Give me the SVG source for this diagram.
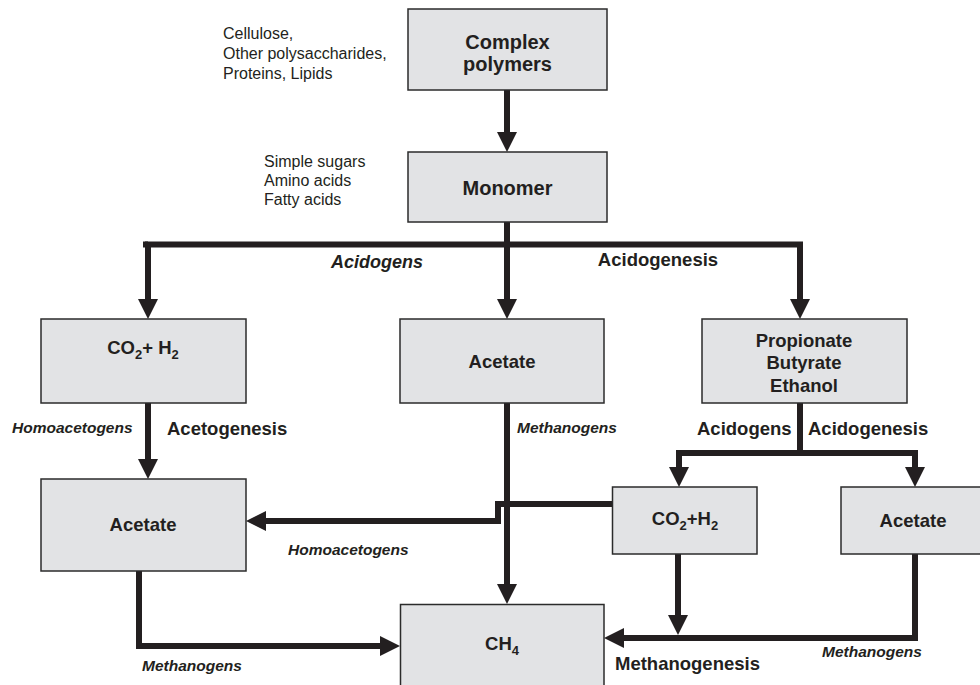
<svg xmlns="http://www.w3.org/2000/svg" width="980" height="685" viewBox="0 0 980 685">
<defs>
<style>
.box{fill:#e2e3e5;stroke:#2b2b2b;stroke-width:1.5}
.t{font-family:"Liberation Sans",Arial,sans-serif;fill:#231f20}
.lbl{font-size:18.5px;font-weight:bold;text-anchor:middle}
.note{font-size:16px}
.bi{font-size:15.5px;font-weight:bold;font-style:italic}
.b{font-size:18.5px;font-weight:bold}
.c{fill:none;stroke:#231f20;stroke-width:6;stroke-linejoin:miter;stroke-linecap:butt;marker-end:url(#ah)}
.p{fill:none;stroke:#231f20;stroke-width:6;stroke-linejoin:miter}
</style>
<marker id="ah" markerUnits="userSpaceOnUse" viewBox="0 0 20 20" refX="0" refY="10" markerWidth="20" markerHeight="20" orient="auto">
<path d="M0,0 L20,10 L0,20 z" fill="#231f20"/>
</marker>
</defs>
<rect width="980" height="685" fill="#ffffff"/>

<g id="connectors">
<path class="c" d="M507,90 V132"/>
<path class="c" d="M507,222 V299"/>
<path class="c" d="M507,244.5 H148 V299"/>
<path class="c" d="M507,244.5 H800 V299"/>
<path class="p" d="M143,244.5 H148"/>
<path class="c" d="M148,403 V459"/>
<path class="c" d="M507,403 V584"/>
<path class="p" d="M800,403 V453"/>
<path class="c" d="M800,453 H679 V467"/>
<path class="c" d="M800,453 H915 V467"/>
<path class="c" d="M612,504 H498 V521 H266"/>
<path class="c" d="M139,571 V646 H380"/>
<path class="c" d="M678,554 V615"/>
<path class="c" d="M915,554 V638 H624"/>
</g>

<g id="complex-polymers">
<rect class="box" x="408" y="9" width="199" height="81"/>
<text class="t" x="507.5" y="49" font-size="20" font-weight="bold" text-anchor="middle">Complex</text>
<text class="t" x="507.5" y="71" font-size="20" font-weight="bold" text-anchor="middle">polymers</text>
</g>
<g id="polymer-note">
<text class="t note" x="223" y="39">Cellulose,</text>
<text class="t note" x="223" y="59">Other polysaccharides,</text>
<text class="t note" x="223" y="79">Proteins, Lipids</text>
</g>

<g id="monomer">
<rect class="box" x="408" y="152" width="199" height="70"/>
<text class="t" x="507.5" y="195" font-size="20" font-weight="bold" text-anchor="middle">Monomer</text>
</g>
<g id="monomer-note">
<text class="t note" x="264" y="167">Simple sugars</text>
<text class="t note" x="264" y="186">Amino acids</text>
<text class="t note" x="264" y="205">Fatty acids</text>
</g>

<g id="co2-h2-left">
<rect class="box" x="41" y="319" width="205" height="84"/>
<text class="t lbl" x="143" y="354">CO<tspan font-size="13" dy="5">2</tspan><tspan dy="-5">+ H</tspan><tspan font-size="13" dy="5">2</tspan></text>
</g>

<g id="acetate-mid">
<rect class="box" x="400" y="319" width="204" height="84"/>
<text class="t lbl" x="502" y="368">Acetate</text>
</g>

<g id="propionate">
<rect class="box" x="702" y="319" width="205" height="84"/>
<text class="t lbl" x="804" y="347">Propionate</text>
<text class="t lbl" x="804" y="369">Butyrate</text>
<text class="t lbl" x="804" y="392">Ethanol</text>
</g>

<g id="acetate-left">
<rect class="box" x="41" y="479" width="205" height="92"/>
<text class="t lbl" x="143" y="531">Acetate</text>
</g>

<g id="co2-h2-right">
<rect class="box" x="612.5" y="487" width="144.5" height="67"/>
<text class="t lbl" x="685" y="525">CO<tspan font-size="13" dy="5">2</tspan><tspan dy="-5">+H</tspan><tspan font-size="13" dy="5">2</tspan></text>
</g>

<g id="acetate-right">
<rect class="box" x="841" y="487" width="146" height="67"/>
<text class="t lbl" x="913" y="527">Acetate</text>
</g>

<g id="ch4">
<rect class="box" x="400.5" y="604.5" width="203.5" height="90"/>
<text class="t lbl" x="502" y="650">CH<tspan font-size="13" dy="5">4</tspan></text>
</g>

<g id="labels">
<text class="t" x="377" y="268" font-size="18" font-weight="bold" font-style="italic" text-anchor="middle">Acidogens</text>
<text class="t b" x="658" y="266" text-anchor="middle">Acidogenesis</text>
<text class="t bi" x="12" y="433">Homoacetogens</text>
<text class="t b" x="167" y="435">Acetogenesis</text>
<text class="t bi" x="517" y="433">Methanogens</text>
<text class="t b" x="697" y="435">Acidogens</text>
<text class="t b" x="808" y="435">Acidogenesis</text>
<text class="t bi" x="288" y="555">Homoacetogens</text>
<text class="t bi" x="142" y="671">Methanogens</text>
<text class="t bi" x="822" y="657">Methanogens</text>
<text class="t b" x="615" y="670">Methanogenesis</text>
</g>
</svg>
